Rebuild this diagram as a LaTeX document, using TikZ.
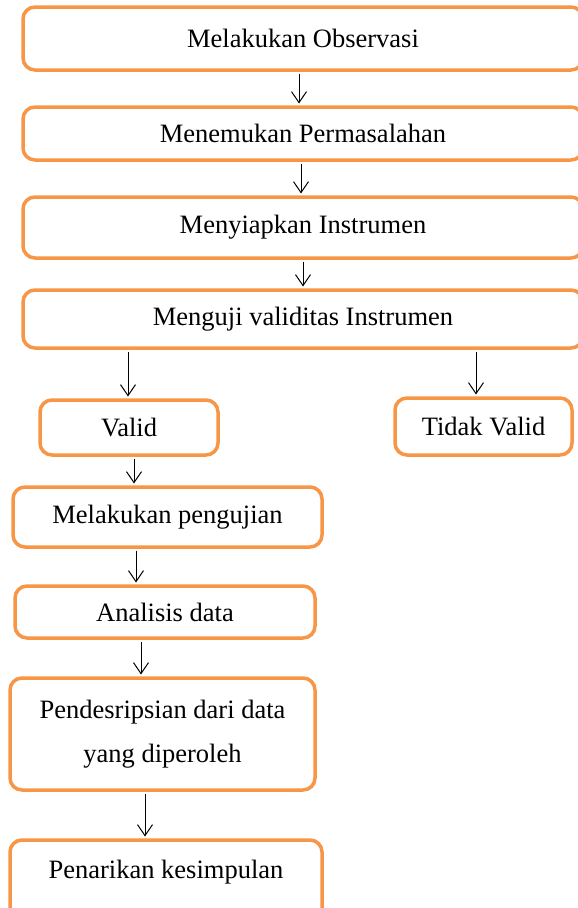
\documentclass[tikz,border=0pt]{standalone}
\usepackage{fontspec}
\setmainfont{Liberation Serif}
\usetikzlibrary{arrows.meta}
\definecolor{boxorange}{RGB}{247,150,70}
\tikzset{
  box/.style={draw=boxorange, line width=3.5pt, rounded corners=12pt, fill=white,
    align=center, inner sep=0pt, font=\fontsize{26.5}{44}\selectfont},
  arr/.style={draw=black, line width=1pt, -{Straight Barb[length=11pt,width=15pt,line width=1pt]}}
}
\begin{document}
\begin{tikzpicture}[x=1pt,y=-1pt]
\useasboundingbox (0,0) rectangle (578,908);
\clip (0,0) rectangle (578,908);
\fill[white] (0,0) rectangle (578,908);
\node[box, minimum width=560pt, minimum height=63pt] (b1) at (303,38.5) {Melakukan Observasi};
\node[box, minimum width=560pt, minimum height=53pt] (b2) at (303,133.5) {Menemukan Permasalahan};
\node[box, minimum width=560pt, minimum height=61pt] (b3) at (303,227.5) {Menyiapkan Instrumen};
\node[box, minimum width=560pt, minimum height=58pt] (b4) at (303,319) {Menguji validitas Instrumen};
\node[box, minimum width=178pt, minimum height=55pt] (valid) at (129,427.5) {Valid};
\node[box, minimum width=177pt, minimum height=57pt] (tidak) at (483.5,426.5) {Tidak Valid};
\node[box, minimum width=309pt, minimum height=60pt] (peng) at (167.5,517) {Melakukan pengujian};
\node[box, minimum width=300pt, minimum height=52pt] (anal) at (165,612) {Analisis data};
\node[box, minimum width=305pt, minimum height=112pt] (pend) at (162.5,734) {Pendesripsian dari data\\yang diperoleh};
\node[box, minimum width=312pt, minimum height=80pt, text depth=22pt] (pena) at (166,880) {Penarikan kesimpulan};
\coordinate (c1) at (299,0);
\coordinate (c2) at (301,0);
\coordinate (c3) at (303,0);
\coordinate (c4) at (128,0);
\coordinate (c5) at (476,0);
\coordinate (c6) at (134,0);
\coordinate (c7) at (136,0);
\coordinate (c8) at (141,0);
\coordinate (c9) at (145,0);
\draw[arr] ([yshift=-1.75pt]b1.south -| c1) -- ([yshift=1.75pt]b2.north -| c1);
\draw[arr] ([yshift=-1.75pt]b2.south -| c2) -- ([yshift=1.75pt]b3.north -| c2);
\draw[arr] ([yshift=-1.75pt]b3.south -| c3) -- ([yshift=1.75pt]b4.north -| c3);
\draw[arr] ([yshift=-1.75pt]b4.south -| c4) -- ([yshift=1.75pt]valid.north -| c4);
\draw[arr] ([yshift=-1.75pt]b4.south -| c5) -- ([yshift=1.75pt]tidak.north -| c5);
\draw[arr] ([yshift=-1.75pt]valid.south -| c6) -- ([yshift=1.75pt]peng.north -| c6);
\draw[arr] ([yshift=-1.75pt]peng.south -| c7) -- ([yshift=1.75pt]anal.north -| c7);
\draw[arr] ([yshift=-1.75pt]anal.south -| c8) -- ([yshift=1.75pt]pend.north -| c8);
\draw[arr] ([yshift=-1.75pt]pend.south -| c9) -- ([yshift=1.75pt]pena.north -| c9);
\end{tikzpicture}
\end{document}
